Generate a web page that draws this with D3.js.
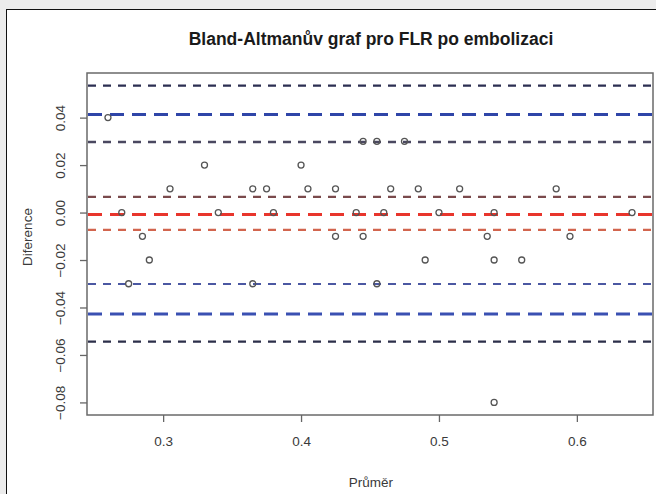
<!DOCTYPE html>
<html>
<head>
<meta charset="utf-8">
<script src="https://cdn.jsdelivr.net/npm/d3@7"></script>
<style>
  body { margin: 0; background: #ececec; }
  svg { display: block; }
</style>
</head>
<body>
<script>
// Bland-Altman: prumer (x) a diference (y)
var prumer = [0.26,
  0.445, 0.455, 0.475,
  0.33, 0.40,
  0.305, 0.365, 0.375, 0.405, 0.425, 0.465, 0.485, 0.515, 0.585,
  0.27, 0.34, 0.38, 0.44, 0.46, 0.50, 0.54, 0.64,
  0.285, 0.425, 0.445, 0.535, 0.595,
  0.29, 0.49, 0.54, 0.56,
  0.275, 0.365, 0.455,
  0.54];
var diference = [0.04,
  0.03, 0.03, 0.03,
  0.02, 0.02,
  0.01, 0.01, 0.01, 0.01, 0.01, 0.01, 0.01, 0.01, 0.01,
  0, 0, 0, 0, 0, 0, 0, 0,
  -0.01, -0.01, -0.01, -0.01, -0.01,
  -0.02, -0.02, -0.02, -0.02,
  -0.03, -0.03, -0.03,
  -0.08];

// horizontal reference lines (upper LoA + CI, mean + CI, lower LoA + CI)
var lineValues = [0.0535, 0.0413, 0.0297, 0.0066, -0.0008, -0.0073, -0.0301, -0.0427, -0.0544];
var xTicks = [0.3, 0.4, 0.5, 0.6];
var yTicks = [-0.08, -0.06, -0.04, -0.02, 0.00, 0.02, 0.04];

var lineStyles = [
  {color: "#2c2f52", width: 2.4, dash: "8,7"},
  {color: "#2f45a8", width: 3, dash: "14,8"},
  {color: "#4a4860", width: 2.4, dash: "8,7"},
  {color: "#7a4a4c", width: 2.2, dash: "8,7"},
  {color: "#e8352c", width: 3, dash: "14,8"},
  {color: "#d2654e", width: 2.2, dash: "8,7"},
  {color: "#4b58a2", width: 2.2, dash: "8,7"},
  {color: "#3a50b2", width: 3, dash: "14,8"},
  {color: "#2c2f4a", width: 2.4, dash: "8,7"}
];

var w = 656, h = 494;
var plotLeft = 87, plotRight = 653, plotTop = 73, plotBottom = 415;

var svg = d3.select("body").append("svg")
  .attr("width", w)
  .attr("height", h)
  .style("font-family", "'Liberation Sans', Arial, sans-serif");

// gray background and white panel
svg.append("rect")
  .attr("width", w).attr("height", h)
  .attr("fill", "#ececec");
svg.append("rect")
  .attr("x", 6.5).attr("y", 9.5)
  .attr("width", w + 10).attr("height", h + 10)
  .attr("fill", "#fff")
  .attr("stroke", "#111")
  .attr("stroke-width", 1);

var x = d3.scaleLinear().domain([0.2448, 0.6552]).range([plotLeft, plotRight]);
var y = d3.scaleLinear().domain([-0.0853, 0.0588]).range([plotBottom, plotTop]);

// lines
svg.append("g").selectAll("line")
  .data(lineValues)
  .enter().append("line")
  .attr("x1", plotLeft + 1).attr("x2", plotRight - 1)
  .attr("y1", function(d) { return y(d); })
  .attr("y2", function(d) { return y(d); })
  .attr("stroke", function(d, i) { return lineStyles[i].color; })
  .attr("stroke-width", function(d, i) { return lineStyles[i].width; })
  .attr("stroke-dasharray", function(d, i) { return lineStyles[i].dash; });

// points
svg.append("g").selectAll("circle")
  .data(prumer)
  .enter().append("circle")
  .attr("cx", function(d) { return x(d); })
  .attr("cy", function(d, i) { return y(diference[i]); })
  .attr("r", 3)
  .attr("fill", "none")
  .attr("stroke", "#555")
  .attr("stroke-width", 1.3);

// frame
svg.append("rect")
  .attr("x", plotLeft).attr("y", plotTop)
  .attr("width", plotRight - plotLeft).attr("height", plotBottom - plotTop)
  .attr("fill", "none")
  .attr("stroke", "#6a6a6a")
  .attr("stroke-width", 1.5);

// x axis
var xAxis = d3.axisBottom(x)
  .tickValues(xTicks)
  .tickSize(7)
  .tickPadding(14)
  .tickFormat(d3.format(".1f"));
var gx = svg.append("g")
  .attr("transform", "translate(0," + plotBottom + ")")
  .call(xAxis);
gx.select(".domain").remove();
gx.selectAll("line").attr("stroke", "#666").attr("stroke-width", 1.3);
gx.selectAll("text").attr("fill", "#3a3a3a").style("font-size", "13.5px");

// y axis
var yAxis = d3.axisLeft(y)
  .tickValues(yTicks)
  .tickSize(7)
  .tickFormat(d3.format(".2f"));
var gy = svg.append("g")
  .attr("transform", "translate(" + plotLeft + ",0)")
  .call(yAxis);
gy.select(".domain").remove();
gy.selectAll("line").attr("stroke", "#666").attr("stroke-width", 1.3);
gy.selectAll("text")
  .attr("fill", "#3a3a3a")
  .style("font-size", "13.5px")
  .attr("x", null).attr("dy", null)
  .attr("text-anchor", "middle")
  .attr("transform", "translate(-22,0) rotate(-90)")
  .attr("y", 0);

// title and axis labels
svg.append("text")
  .attr("x", 371).attr("y", 45)
  .attr("text-anchor", "middle")
  .style("font-size", "17.5px")
  .style("font-weight", "bold")
  .attr("fill", "#1a1a1a")
  .text("Bland-Altmanův graf pro FLR po embolizaci");

svg.append("text")
  .attr("x", 371).attr("y", 487)
  .attr("text-anchor", "middle")
  .style("font-size", "13.5px")
  .attr("fill", "#3a3a3a")
  .text("Průměr");

svg.append("text")
  .attr("transform", "translate(32," + 237 + ") rotate(-90)")
  .attr("text-anchor", "middle")
  .style("font-size", "13.5px")
  .attr("fill", "#3a3a3a")
  .text("Diference");
</script>
</body>
</html>
